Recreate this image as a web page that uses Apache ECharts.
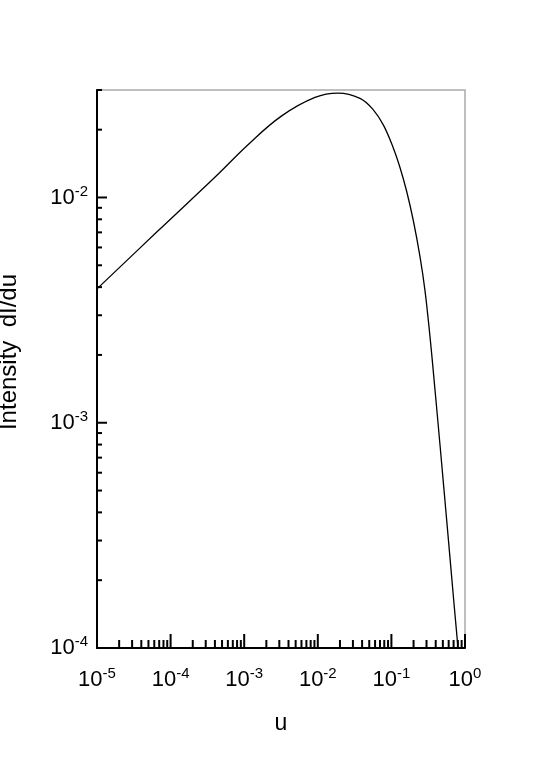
<!DOCTYPE html>
<html>
<head>
<meta charset="utf-8">
<script src="https://cdn.jsdelivr.net/npm/echarts@6/dist/echarts.min.js"></script>
<style>html,body{margin:0;padding:0;background:#fff}#c{width:540px;height:777px}</style>
</head>
<body>
<div id="c"></div>
<script>
// Data (u, Intensity dI/du)
const uValues = [1e-5, 6.533e-5, 4.23e-4, 1.137e-3, 3.232e-3, 9.16e-3, 0.01882, 0.03744, 0.05677, 0.07762, 0.1061, 0.1308, 0.1614, 0.1984, 0.2446, 0.2860, 0.3345, 0.3793, 0.4297, 0.4870, 0.5518, 0.6254, 0.7087, 0.8034];
const intensity = [0.003928, 0.007039, 0.01252, 0.01720, 0.02303, 0.02782, 0.02908, 0.02754, 0.02448, 0.02100, 0.01660, 0.01359, 0.01063, 0.007903, 0.005467, 0.003861, 0.002411, 0.001561, 0.001, 0.000634, 0.0004001, 0.0002512, 0.0001577, 0.0001];

// Axes
const xMin = 1e-5, xMax = 1;
const yMin = 1e-4, yMax = 0.03;
const xDecades = [1e-5, 1e-4, 1e-3, 1e-2, 1e-1, 1];
const yDecades = [1e-4, 1e-3, 1e-2];
const mantissas = [2, 3, 4, 5, 6, 7, 8, 9];
const xName = 'u';
const yName = 'Intensity  dI/du';

function minorTicks(decades, lo, hi) {
  const out = [];
  decades.forEach(d => mantissas.forEach(m => { const v = m * d; if (v > lo * 1.0001 && v <= hi * 1.0001) out.push(v); }));
  return out;
}
const xMinor = minorTicks(xDecades, xMin, xMax);
const yMinor = minorTicks(yDecades, yMin, yMax);

const seriesData = uValues.map((u, i) => [u, intensity[i]]);

function powLabel(v) {
  const e = Math.round(Math.log10(v));
  if (Math.abs(Math.log10(v) - e) > 1e-6) return '';
  return '{b|10}{s|' + e + '}';
}
const rich = {
  b: { fontSize: 22, fontFamily: 'Liberation Sans', color: '#000' },
  s: { fontSize: 15, fontFamily: 'Liberation Sans', color: '#000', padding: [0, 0, 12, 0] }
};

function tickSeries(values, axis, len) {
  return {
    type: 'custom',
    silent: true,
    clip: false,
    z: 5,
    data: values.map(v => [v]),
    renderItem: function (params, api) {
      const v = api.value(0);
      let p, q;
      if (axis === 'x') {
        p = api.coord([v, yMin]);
        q = [p[0], p[1] - len];
      } else {
        p = api.coord([xMin, v]);
        q = [p[0] + len, p[1]];
      }
      return { type: 'line', shape: { x1: p[0], y1: p[1], x2: q[0], y2: q[1] }, style: { stroke: '#000', lineWidth: 2 } };
    }
  };
}

const chart = echarts.init(document.getElementById('c'), null, { renderer: 'canvas' });
chart.setOption({
  animation: false,
  backgroundColor: '#fff',
  grid: { left: 97, right: 75, top: 90, bottom: 129, containLabel: false, outerBoundsMode: 'none', show: true, borderColor: '#aaaaaa', borderWidth: 1.5, backgroundColor: 'transparent' },
  xAxis: {
    type: 'log', logBase: 10, min: xMin, max: xMax,
    name: xName, nameLocation: 'middle', nameGap: 64,
    nameTextStyle: { fontSize: 23, fontFamily: 'Liberation Sans', color: '#000' },
    axisLine: { show: true, lineStyle: { color: '#000', width: 2 } },
    axisTick: { show: false },
    splitLine: { show: false },
    minorTick: { show: false },
    axisLabel: { formatter: powLabel, rich: rich, margin: 18, showMinLabel: true, showMaxLabel: true }
  },
  yAxis: {
    type: 'log', logBase: 10, min: yMin, max: yMax,
    name: yName, nameLocation: 'middle', nameGap: 76, nameRotate: 90,
    nameTextStyle: { fontSize: 24, fontFamily: 'Liberation Sans', color: '#000', padding: [0, 0, 0, 34] },
    axisLine: { show: true, lineStyle: { color: '#000', width: 2 } },
    axisTick: { show: false },
    splitLine: { show: false },
    axisLabel: { formatter: powLabel, rich: rich, margin: 9, showMinLabel: true, showMaxLabel: false }
  },
  series: [
    {
      type: 'line',
      data: seriesData,
      smooth: 0.4,
      showSymbol: false,
      symbol: 'none',
      lineStyle: { color: '#000', width: 1.3 },
      z: 3
    },
    tickSeries(xDecades, 'x', 14),
    tickSeries(xMinor, 'x', 8),
    tickSeries(yDecades, 'y', 10),
    tickSeries(yMinor, 'y', 5)
  ]
});
</script>
</body>
</html>
